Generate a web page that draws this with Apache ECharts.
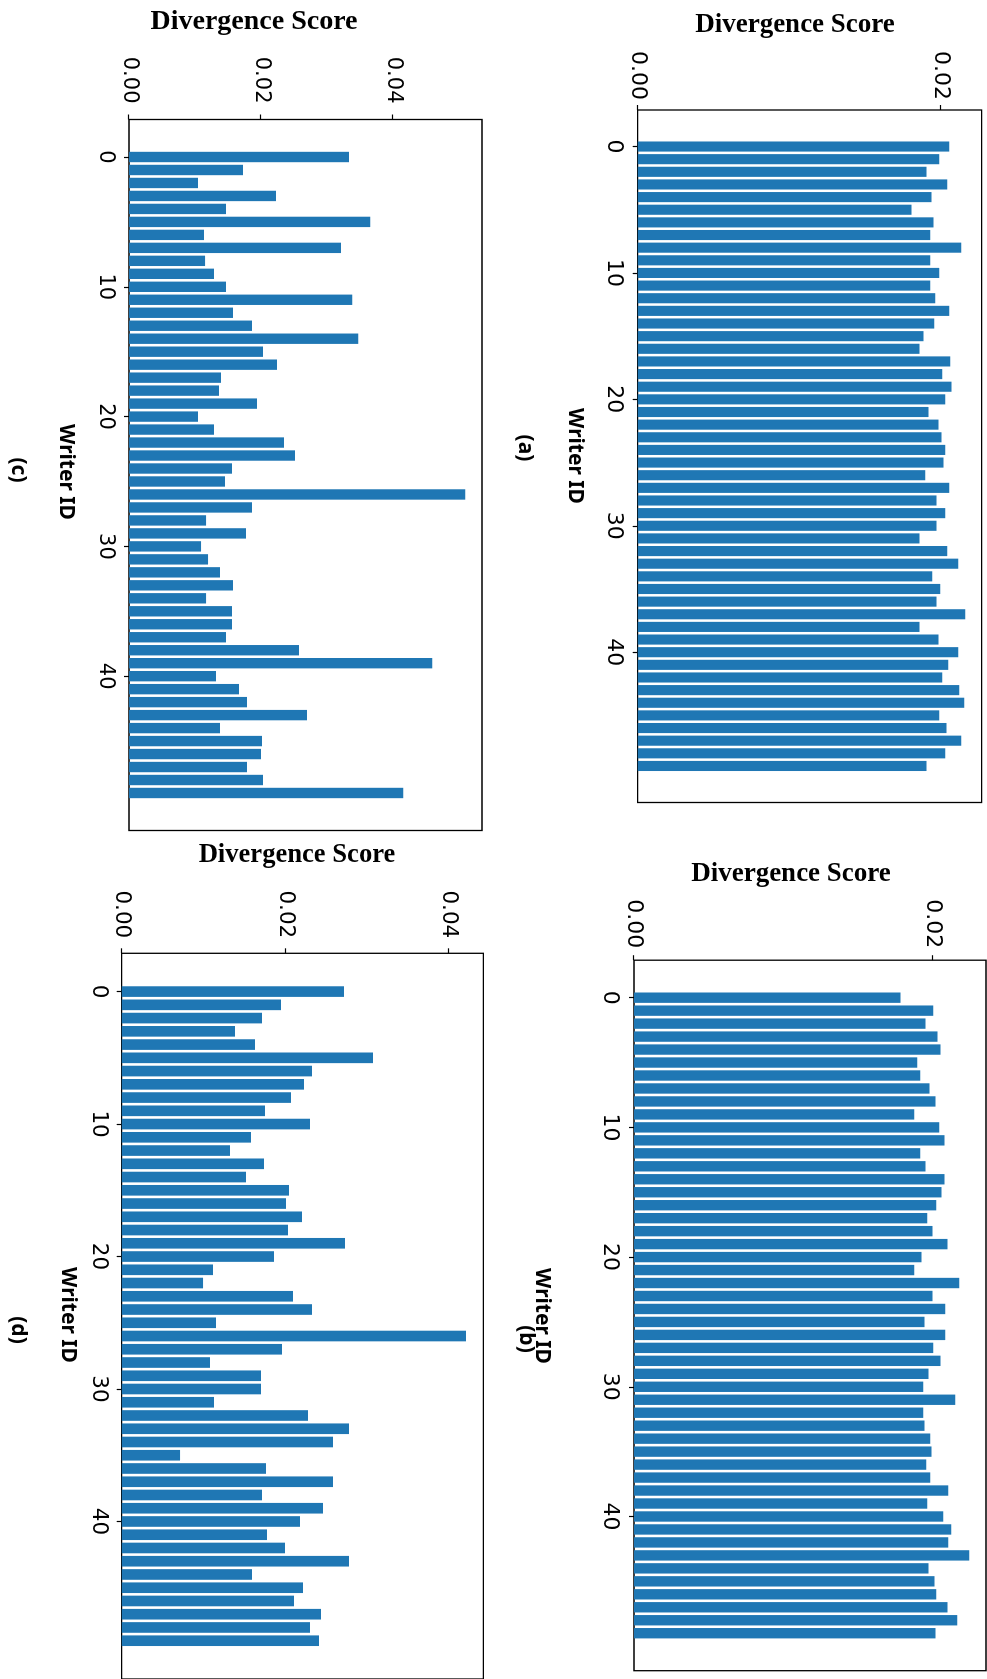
<!DOCTYPE html>
<html>
<head>
<meta charset="utf-8">
<script src="https://cdn.jsdelivr.net/npm/echarts@6/dist/echarts.min.js"></script>
<style>
  html, body { margin: 0; padding: 0; overflow: hidden; background: #fff; width: 987px; height: 1679px; }
  /* The figure is laid out landscape (1679 x 987) and turned a quarter turn clockwise onto the page. */
  #chart { position: absolute; left: 0; top: 0; width: 1679px; height: 987px;
           transform-origin: 0 0; transform: translate(987px, 0) rotate(90deg); }
</style>
</head>
<body>
<div id="chart"></div>
<script>
// Writer IDs shared by all four panels
const writerIds = [0, 1, 2, 3, 4, 5, 6, 7, 8, 9, 10, 11, 12, 13, 14, 15, 16, 17, 18, 19,
                   20, 21, 22, 23, 24, 25, 26, 27, 28, 29, 30, 31, 32, 33, 34, 35, 36, 37, 38, 39,
                   40, 41, 42, 43, 44, 45, 46, 47, 48, 49];

// Divergence score per writer, panels (a)-(d)
const scoresA = [0.02059, 0.01993, 0.01908, 0.02046, 0.01941, 0.01809, 0.01954, 0.01934, 0.02138, 0.01934,
                 0.01993, 0.01934, 0.01967, 0.02059, 0.01960, 0.01888, 0.01862, 0.02066, 0.02013, 0.02073,
                 0.02033, 0.01921, 0.01987, 0.02007, 0.02033, 0.02020, 0.01901, 0.02059, 0.01974, 0.02033,
                 0.01974, 0.01862, 0.02046, 0.02119, 0.01947, 0.02000, 0.01974, 0.02165, 0.01862, 0.01987,
                 0.02119, 0.02053, 0.02013, 0.02125, 0.02158, 0.01993, 0.02040, 0.02138, 0.02033, 0.01908];

const scoresB = [0.01782, 0.02002, 0.01949, 0.02029, 0.02049, 0.01895, 0.01915, 0.01976, 0.02016, 0.01875,
                 0.02042, 0.02076, 0.01915, 0.01949, 0.02076, 0.02056, 0.02022, 0.01962, 0.01996, 0.02096,
                 0.01922, 0.01875, 0.02176, 0.01996, 0.02082, 0.01942, 0.02082, 0.02002, 0.02049, 0.01969,
                 0.01935, 0.02149, 0.01935, 0.01942, 0.01982, 0.01989, 0.01955, 0.01982, 0.02102, 0.01962,
                 0.02069, 0.02122, 0.02102, 0.02242, 0.01969, 0.02009, 0.02022, 0.02096, 0.02162, 0.02016];

const scoresC = [0.03333, 0.01727, 0.01045, 0.02227, 0.01470, 0.03652, 0.01136, 0.03212, 0.01152, 0.01288,
                 0.01470, 0.03379, 0.01576, 0.01864, 0.03470, 0.02030, 0.02242, 0.01394, 0.01364, 0.01939,
                 0.01045, 0.01288, 0.02348, 0.02515, 0.01561, 0.01455, 0.05091, 0.01864, 0.01167, 0.01773,
                 0.01091, 0.01197, 0.01379, 0.01576, 0.01167, 0.01561, 0.01561, 0.01470, 0.02576, 0.04591,
                 0.01318, 0.01667, 0.01788, 0.02697, 0.01379, 0.02015, 0.02000, 0.01788, 0.02030, 0.04152];

const scoresD = [0.02717, 0.01947, 0.01715, 0.01385, 0.01629, 0.03071, 0.02326, 0.02228, 0.02069, 0.01752,
                 0.02301, 0.01580, 0.01324, 0.01739, 0.01519, 0.02045, 0.02008, 0.02204, 0.02033, 0.02729,
                 0.01862, 0.01116, 0.00994, 0.02094, 0.02326, 0.01153, 0.04208, 0.01959, 0.01079, 0.01703,
                 0.01703, 0.01128, 0.02277, 0.02778, 0.02582, 0.00713, 0.01764, 0.02582, 0.01715, 0.02460,
                 0.02179, 0.01776, 0.01996, 0.02778, 0.01593, 0.02216, 0.02106, 0.02436, 0.02301, 0.02411];

// Tick labels
const idTicks = [0, 10, 20, 30, 40];
const scoreTicksAB = [0, 0.02];
const scoreTicksCD = [0, 0.02, 0.04];

// Axis texts
const valueAxisName = 'Divergence Score';
const idAxisName = 'Writer ID';
const panelTags = ['(a)', '(b)', '(c)', '(d)'];

// Writer-ID axis extent: bars span id±0.4, padded by 5% of that span on each side
const ID_MIN = -2.89, ID_MAX = 51.89;
const BAR_FRACTION = 0.8;

// Panel placement in the landscape layout
const panels = [
  { scores: scoresA, ticks: scoreTicksAB, grid: { left: 110, top: 5.3, width: 692.5, height: 344 },
    valueMargin: 10, idMargin: 13, tickFont: 22,
    yName: { x: 25, y: 192, size: 27 }, xName: { x: 456, y: 412 }, tag: { x: 448, y: 462 } },
  { scores: scoresB, ticks: scoreTicksAB, grid: { left: 960.2, top: 1, width: 710.5, height: 352 },
    valueMargin: 12, idMargin: 13, tickFont: 22,
    yName: { x: 874, y: 196, size: 27 }, xName: { x: 1316, y: 445 }, tag: { x: 1339, y: 461 } },
  { scores: scoresC, ticks: scoreTicksCD, grid: { left: 119.5, top: 505, width: 711, height: 353 },
    valueMargin: 16, idMargin: 13, tickFont: 21,
    yName: { x: 22, y: 733, size: 28 }, xName: { x: 472, y: 921 }, tag: { x: 470, y: 969 } },
  { scores: scoresD, ticks: scoreTicksCD, grid: { left: 953.3, top: 503.7, width: 728.5, height: 361.6 },
    valueMargin: 15, idMargin: 12, tickFont: 21.5,
    yName: { x: 855, y: 690, size: 26.6 }, xName: { x: 1315, y: 919 }, tag: { x: 1330, y: 969 } }
];

const BAR_COLOR = '#1f77b4';
const TICK_FONT = '"DejaVu Sans", sans-serif';

const option = {
  animation: false,
  backgroundColor: '#ffffff',
  grid: panels.map(p => Object.assign({
    show: true, borderColor: '#000', borderWidth: 1.3, backgroundColor: 'transparent'
  }, p.grid)),
  xAxis: panels.map((p, i) => ({
    gridIndex: i, type: 'value', min: ID_MIN, max: ID_MAX,
    axisLine: { show: false, onZero: false },
    splitLine: { show: false },
    axisTick: { show: true, customValues: idTicks, length: 5, lineStyle: { color: '#000', width: 1.2 } },
    axisLabel: { customValues: idTicks, margin: p.idMargin, color: '#000',
                 fontFamily: TICK_FONT, fontSize: p.tickFont }
  })),
  yAxis: panels.map((p, i) => ({
    gridIndex: i, type: 'value', min: 0, max: e => e.max * 1.05,
    axisLine: { show: false, onZero: false },
    splitLine: { show: false },
    axisTick: { show: true, customValues: p.ticks, length: 5, lineStyle: { color: '#000', width: 1.2 } },
    axisLabel: { customValues: p.ticks, margin: p.valueMargin, color: '#000',
                 fontFamily: TICK_FONT, fontSize: p.tickFont, formatter: v => v.toFixed(2) }
  })),
  series: panels.map((p, i) => ({
    type: 'bar', xAxisIndex: i, yAxisIndex: i,
    barWidth: BAR_FRACTION * p.grid.width / (ID_MAX - ID_MIN),
    itemStyle: { color: BAR_COLOR },
    data: writerIds.map((id, k) => [id, p.scores[k]])
  })),
  graphic: panels.flatMap((p, i) => [
    { type: 'text', x: p.yName.x, y: p.yName.y, rotation: Math.PI / 2,
      style: { text: valueAxisName, fill: '#000', textAlign: 'center', textVerticalAlign: 'middle',
               font: 'bold ' + p.yName.size + 'px "Liberation Serif", "Times New Roman", serif' } },
    { type: 'text', x: p.xName.x, y: p.xName.y,
      style: { text: idAxisName, fill: '#000', textAlign: 'center', textVerticalAlign: 'middle',
               font: 'bold 21px "Noto Sans", sans-serif' } },
    { type: 'text', x: p.tag.x, y: p.tag.y,
      style: { text: panelTags[i], fill: '#000', textAlign: 'center', textVerticalAlign: 'middle',
               font: 'bold 21px "Noto Sans", sans-serif' } }
  ])
};

const chart = echarts.init(document.getElementById('chart'), null, { renderer: 'canvas' });
chart.setOption(option);
</script>
</body>
</html>
